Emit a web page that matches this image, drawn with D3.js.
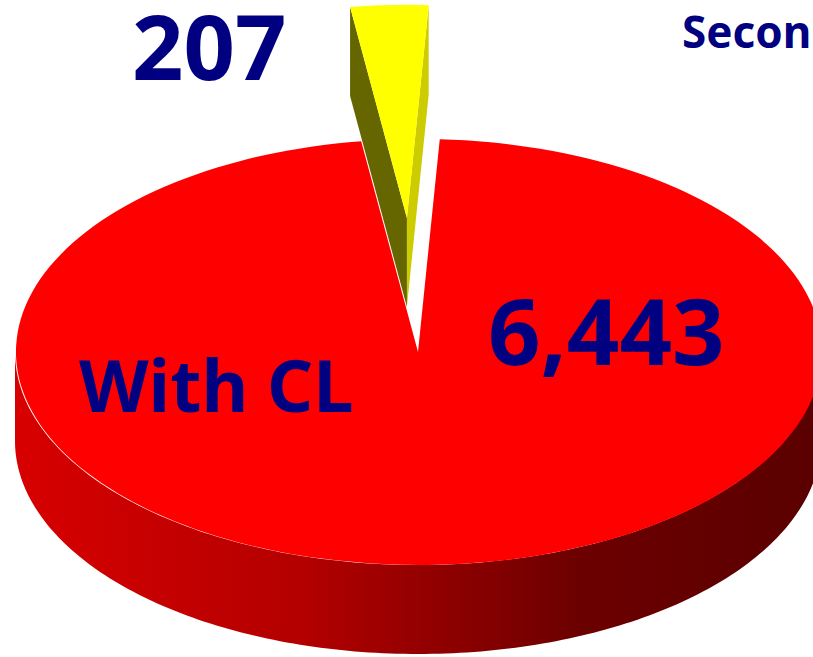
<!DOCTYPE html>
<html>
<head>
<meta charset="utf-8">
<script src="https://cdn.jsdelivr.net/npm/d3@7"></script>
<style>
    html, body { margin: 0; padding: 0; background: #fff; overflow: hidden; }
    text { font-family: "Noto Sans", "DejaVu Sans", sans-serif; font-weight: 700; fill: #000080; }
</style>
</head>
<body>
<div id="my_dataviz"></div>
<script>
    // chart data
    var categories = ["With CL", "Without CL"];
    var values = [6443, 207];
    var valueLabels = ["6,443", "207"];

    var width = 813, height = 657;
    var cx = 418, cy = 352, rx = 403, ry = 213, depth = 89;
    var explode = 0.63;

    var svg = d3.select("#my_dataviz").append("svg")
        .attr("width", width)
        .attr("height", height);

    // wall shading runs left to right across the pie
    var defs = svg.append("defs");
    var grad = defs.append("linearGradient")
        .attr("id", "wall")
        .attr("gradientUnits", "userSpaceOnUse")
        .attr("x1", cx - rx).attr("x2", cx + rx).attr("y1", 0).attr("y2", 0);
    grad.append("stop").attr("offset", "0").attr("stop-color", "#d80000");
    grad.append("stop").attr("offset", "0.35").attr("stop-color", "#b40000");
    grad.append("stop").attr("offset", "0.7").attr("stop-color", "#6c0000");
    grad.append("stop").attr("offset", "1").attr("stop-color", "#5a0000");

    // yellow slice sits at the top, red one takes the rest
    var start = 3.1 * Math.PI / 180;
    var pie = d3.pie().sort(null).startAngle(start).endAngle(start + 2 * Math.PI);
    var slices = pie(values);

    // unit arc, flattened by the scale transform
    var arc = d3.arc().innerRadius(0).outerRadius(1);
    var px = d3.scaleLinear().domain([-1, 1]).range([cx - rx, cx + rx]);
    var py = d3.scaleLinear().domain([-1, 1]).range([cy - ry, cy + ry]);

    function rim(a) { return [px(Math.sin(a)), py(-Math.cos(a))]; }

    // front wall of the red slice
    var wallAngles = d3.range(90, 270.5, 1).map(function (d) { return d * Math.PI / 180; });
    var upper = wallAngles.map(rim);
    var lower = upper.slice().reverse().map(function (p) { return [p[0], p[1] + depth]; });
    svg.append("path")
        .attr("d", d3.line()(upper.concat(lower)) + "Z")
        .attr("fill", "url(#wall)");

    // exploded yellow slice
    var y0 = slices[1].startAngle, y1 = slices[1].endAngle, mid = (y0 + y1) / 2;
    var ox = px(Math.sin(mid) * explode) - cx;
    var oy = py(-Math.cos(mid) * explode) - cy;
    var g = svg.append("g").attr("transform", "translate(" + ox + "," + oy + ")");

    function face(a) {
        var p = rim(a);
        return d3.line()([[cx, cy], p, [p[0], p[1] + depth], [cx, cy + depth]]) + "Z";
    }
    g.append("path").attr("d", face(y0)).attr("fill", "#666600");
    g.append("path").attr("d", face(y1)).attr("fill", "#cccc00");
    g.append("path")
        .attr("d", arc(slices[1]))
        .attr("transform", "translate(" + cx + "," + cy + ") scale(" + rx + "," + ry + ")")
        .attr("fill", "#ffff00");

    // red top
    svg.append("path")
        .attr("d", arc(slices[0]))
        .attr("transform", "translate(" + cx + "," + cy + ") scale(" + rx + "," + ry + ")")
        .attr("fill", "#ff0000");

    // labels
    svg.append("text").attr("x", 132).attr("y", 80).attr("font-size", 90).text(valueLabels[1]);
    svg.append("text").attr("x", 488).attr("y", 365).attr("font-size", 92).text(valueLabels[0]);
    svg.append("text").attr("x", 79).attr("y", 412).attr("font-size", 72).text(categories[0]);
    svg.append("text").attr("x", 682).attr("y", 48).attr("font-size", 44).text("Secon");
</script>
</body>
</html>
